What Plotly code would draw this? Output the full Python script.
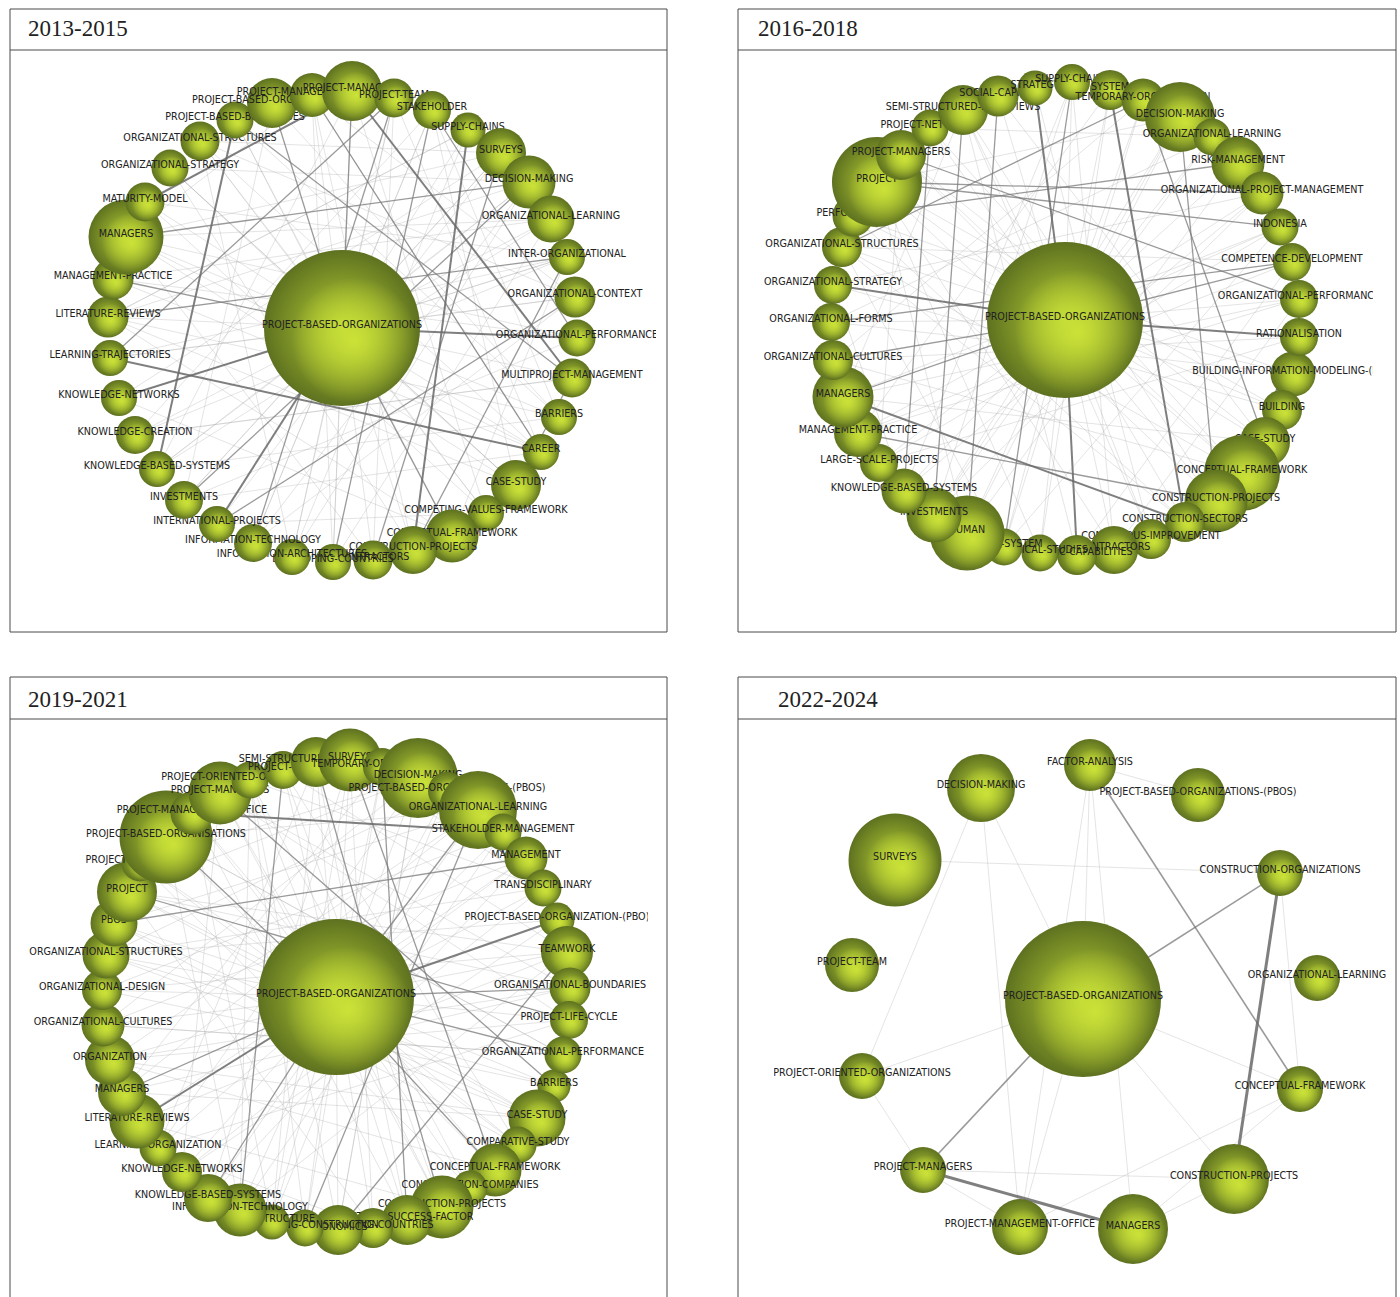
import plotly.graph_objects as go

W, H = 1400, 1297

# ---------------- Panel 1 : 2013-2015 ----------------
p1_labels = ["PROJECT-BASED-ORGANIZATIONS", "BARRIERS", "CAREER", "CASE-STUDY", "COMPETING-VALUES-FRAMEWORK",
             "CONCEPTUAL-FRAMEWORK", "CONSTRUCTION-PROJECTS", "CONTRACTORS", "DEVELOPING-COUNTRIES",
             "INFORMATION-ARCHITECTURES", "INFORMATION-TECHNOLOGY", "INTERNATIONAL-PROJECTS", "INVESTMENTS",
             "KNOWLEDGE-BASED-SYSTEMS", "KNOWLEDGE-CREATION", "KNOWLEDGE-NETWORKS", "LEARNING-TRAJECTORIES",
             "LITERATURE-REVIEWS", "MANAGEMENT-PRACTICE", "MANAGERS", "MATURITY-MODEL", "ORGANIZATIONAL-STRATEGY",
             "ORGANIZATIONAL-STRUCTURES", "PROJECT-BASED-BUSINESSES", "PROJECT-BASED-ORGANISATIONS",
             "PROJECT-MANAGEMENT-OFFICE", "PROJECT-MANAGERS", "PROJECT-TEAM", "STAKEHOLDER", "SUPPLY-CHAINS",
             "SURVEYS", "DECISION-MAKING", "ORGANIZATIONAL-LEARNING", "INTER-ORGANIZATIONAL",
             "ORGANIZATIONAL-CONTEXT", "ORGANIZATIONAL-PERFORMANCE", "MULTIPROJECT-MANAGEMENT"]
p1_x = [342, 559, 541, 516, 486, 452, 413, 373, 333, 292, 253, 217, 184, 157, 135, 119, 110, 108, 113, 126, 145,
        170, 200, 235, 272, 312, 352, 394, 432, 468, 501, 529, 551, 567, 575, 577, 572]
p1_y = [328, 417, 452, 485, 513, 536, 550, 560, 562, 557, 543, 524, 500, 469, 435, 398, 358, 317, 279, 237, 202,
        168, 141, 120, 103, 95, 91, 98, 110, 130, 153, 182, 219, 257, 297, 338, 378]
p1_size = [156, 36, 36, 50, 36, 53, 48, 39, 36, 36, 38, 36, 38, 36, 38, 36, 36, 41, 41, 75, 39,
           37, 39, 37, 50, 44, 60, 39, 38, 35, 50, 53, 47, 36, 41, 37, 39]
p1_strong = [(20, 26), (23, 13), (26, 36), (16, 2), (15, 0), (11, 0), (0, 35), (29, 6)]
p1_mid = [(16, 27), (18, 0), (23, 36), (27, 10), (28, 35), (3, 36), (11, 34), (7, 30), (6, 33), (25, 2),
          (24, 0), (19, 31), (26, 0), (0, 5), (17, 33), (31, 12), (28, 8)]
p1_weak = [(0, 1), (0, 2), (0, 3), (0, 4), (0, 6), (0, 7), (0, 8), (0, 9), (0, 10), (0, 12), (0, 13), (0, 14),
           (0, 16), (0, 17), (0, 19), (0, 20), (0, 21), (0, 22), (0, 23), (0, 25), (0, 27), (0, 28), (0, 29),
           (0, 30), (0, 31), (0, 32), (0, 33), (0, 34), (0, 36),
           (19, 30), (19, 32), (19, 3), (19, 35), (19, 7), (18, 32), (18, 2), (17, 29), (17, 5), (21, 31),
           (21, 3), (22, 30), (22, 34), (22, 9), (24, 1), (24, 12), (25, 34), (25, 8), (26, 13), (26, 4),
           (27, 2), (28, 14), (28, 1), (29, 17), (30, 11), (30, 15), (31, 9), (32, 13), (33, 16), (34, 10),
           (35, 12), (36, 14), (3, 17), (5, 15), (4, 20), (6, 21), (8, 26), (9, 27), (10, 28), (12, 30),
           (13, 31), (14, 33), (2, 25), (1, 23), (3, 28), (5, 33), (20, 33), (22, 2), (19, 25), (18, 35),
           (17, 31), (16, 34), (15, 33), (14, 36), (13, 1), (12, 2), (11, 4), (10, 31), (9, 29), (8, 32),
           (7, 27), (6, 25), (5, 23), (4, 22), (3, 21), (2, 19), (1, 17)]

# ---------------- Panel 2 : 2016-2018 ----------------
p2_labels = ["PROJECT-BASED-ORGANIZATIONS", "BUILDING-INFORMATION-MODELING-(BIM)", "BUILDING", "CASE-STUDY",
             "CONCEPTUAL-FRAMEWORK", "CONSTRUCTION-PROJECTS", "CONSTRUCTION-SECTORS", "CONTINUOUS-IMPROVEMENT",
             "CONTRACTORS", "DYNAMIC-CAPABILITIES", "EMPIRICAL-STUDIES", "EXPERT-SYSTEM", "HUMAN", "INVESTMENTS",
             "KNOWLEDGE-BASED-SYSTEMS", "LARGE-SCALE-PROJECTS", "MANAGEMENT-PRACTICE", "MANAGERS",
             "ORGANIZATIONAL-CULTURES", "ORGANIZATIONAL-FORMS", "ORGANIZATIONAL-STRATEGY",
             "ORGANIZATIONAL-STRUCTURES", "PERFORMANCE", "PROJECT", "PROJECT-MANAGERS", "PROJECT-NETWORKS",
             "SEMI-STRUCTURED-INTERVIEWS", "SOCIAL-CAPITAL", "STRATEGY", "SUPPLY-CHAINS", "SYSTEM",
             "TEMPORARY-ORGANIZATION", "DECISION-MAKING", "ORGANIZATIONAL-LEARNING", "RISK-MANAGEMENT",
             "ORGANIZATIONAL-PROJECT-MANAGEMENT", "INDONESIA", "COMPETENCE-DEVELOPMENT",
             "ORGANIZATIONAL-PERFORMANCE", "RATIONALISATION"]
p2_x = [1065, 1293, 1282, 1265, 1242, 1216, 1185, 1151, 1114, 1077, 1040, 1004, 967, 934, 904, 879, 858, 843,
        833, 831, 833, 842, 853, 877, 901, 930, 963, 998, 1035, 1072, 1110, 1143, 1180, 1212, 1238, 1262, 1280,
        1292, 1299, 1299]
p2_y = [320, 374, 410, 442, 473, 501, 522, 539, 550, 555, 553, 547, 533, 515, 491, 463, 433, 397, 360, 322,
        285, 247, 216, 182, 155, 128, 110, 96, 88, 82, 90, 100, 117, 137, 163, 193, 227, 262, 299, 337]
p2_size = [156, 45, 40, 50, 76, 63, 40, 40, 48, 40, 37, 37, 75, 55, 45, 38, 48, 61, 40, 38, 38, 40, 41, 90,
           50, 37, 50, 41, 35, 36, 40, 43, 70, 37, 53, 43, 37, 38, 38, 38]
p2_strong = [(20, 0), (0, 39), (28, 0), (30, 6), (0, 9), (17, 6), (39, 4)]
p2_mid = [(18, 0), (0, 37), (23, 35), (21, 31), (31, 3), (32, 5), (26, 13), (23, 36), (24, 38), (17, 0),
          (19, 37), (25, 14), (29, 11), (22, 34), (16, 5), (27, 12)]
p2_weak = [(0, 1), (0, 2), (0, 3), (0, 4), (0, 5), (0, 6), (0, 7), (0, 8), (0, 10), (0, 11), (0, 12), (0, 13),
           (0, 14), (0, 15), (0, 16), (0, 19), (0, 21), (0, 22), (0, 23), (0, 24), (0, 25), (0, 26), (0, 27),
           (0, 29), (0, 30), (0, 31), (0, 32), (0, 33), (0, 34), (0, 35), (0, 36), (0, 38),
           (23, 32), (23, 5), (23, 12), (23, 8), (24, 4), (24, 15), (25, 33), (26, 7), (26, 17), (27, 3),
           (29, 14), (30, 16), (31, 18), (32, 13), (33, 19), (34, 12), (35, 20), (36, 17), (37, 21), (38, 16),
           (39, 15), (1, 22), (2, 23), (3, 24), (4, 25), (5, 26), (7, 28), (8, 29), (10, 30), (11, 31),
           (12, 32), (13, 33), (14, 35), (15, 36), (16, 37), (17, 38), (18, 39), (19, 1), (20, 2), (21, 4),
           (22, 6), (9, 26), (10, 23), (11, 21), (13, 29), (14, 20), (3, 17), (4, 18), (6, 21), (35, 13),
           (36, 11), (37, 9), (38, 8)]

# ---------------- Panel 3 : 2019-2021 ----------------
p3_labels = ["PROJECT-BASED-ORGANIZATIONS", "BARRIERS", "CASE-STUDY", "COMPARATIVE-STUDY", "CONCEPTUAL-FRAMEWORK",
             "CONSTRUCTION-COMPANIES", "CONSTRUCTION-PROJECTS", "CRITICAL-SUCCESS-FACTOR", "DEVELOPING-COUNTRIES",
             "ECONOMICS", "ENGINEERING-CONSTRUCTION", "INFRASTRUCTURE", "INFORMATION-TECHNOLOGY",
             "KNOWLEDGE-BASED-SYSTEMS", "KNOWLEDGE-NETWORKS", "LEARNING-ORGANIZATION", "LITERATURE-REVIEWS",
             "MANAGERS", "ORGANIZATION", "ORGANIZATIONAL-CULTURES", "ORGANIZATIONAL-DESIGN",
             "ORGANIZATIONAL-STRUCTURES", "PBOS", "PROJECT", "PROJECT-BASED-FIRMS", "PROJECT-BASED-ORGANISATIONS",
             "PROJECT-MANAGEMENT-OFFICE", "PROJECT-MANAGERS", "PROJECT-ORIENTED-ORGANIZATIONS", "PROJECT-TEAM",
             "SEMI-STRUCTURED-INTERVIEWS", "SURVEYS", "TEMPORARY-ORGANIZATIONS", "DECISION-MAKING",
             "PROJECT-BASED-ORGANIZATIONS-(PBOS)", "ORGANIZATIONAL-LEARNING", "STAKEHOLDER-MANAGEMENT",
             "MANAGEMENT", "TRANSDISCIPLINARY", "PROJECT-BASED-ORGANIZATION-(PBO)", "TEAMWORK",
             "ORGANISATIONAL-BOUNDARIES", "PROJECT-LIFE-CYCLE", "ORGANIZATIONAL-PERFORMANCE"]
p3_x = [336, 554, 537, 518, 495, 470, 442, 407, 373, 338, 305, 272, 240, 208, 182, 158, 137, 122, 110, 103, 102,
        106, 114, 127, 140, 166, 192, 220, 250, 283, 316, 350, 382, 418, 447, 478, 503, 526, 543, 557, 567, 570,
        569, 563]
p3_y = [997, 1086, 1118, 1145, 1170, 1188, 1207, 1220, 1228, 1230, 1228, 1222, 1210, 1198, 1172, 1148, 1121,
        1092, 1060, 1025, 990, 955, 923, 892, 863, 837, 813, 793, 780, 770, 762, 760, 767, 778, 791, 810, 832,
        858, 888, 920, 952, 988, 1020, 1055]
p3_size = [156, 33, 57, 37, 53, 35, 63, 50, 40, 50, 37, 35, 53, 48, 40, 37, 55, 48, 50, 43, 40, 47, 47, 60,
           37, 93, 43, 63, 37, 38, 50, 63, 38, 80, 38, 78, 37, 43, 37, 35, 52, 41, 38, 37]
p3_strong = [(0, 39), (0, 16), (33, 38), (26, 36)]
p3_mid = [(0, 17), (0, 41), (0, 43), (31, 4), (9, 40), (10, 35), (13, 0), (30, 6), (22, 37), (29, 12),
          (27, 1), (23, 42), (32, 7), (25, 0), (35, 0), (0, 4)]
p3_weak = [(0, 1), (0, 2), (0, 3), (0, 5), (0, 6), (0, 7), (0, 8), (0, 9), (0, 10), (0, 11), (0, 12), (0, 14),
           (0, 15), (0, 18), (0, 19), (0, 20), (0, 21), (0, 22), (0, 23), (0, 24), (0, 26), (0, 27), (0, 28),
           (0, 29), (0, 30), (0, 31), (0, 32), (0, 33), (0, 34), (0, 36), (0, 37), (0, 38), (0, 40), (0, 42),
           (23, 33), (23, 2), (23, 40), (23, 8), (25, 35), (25, 4), (25, 12), (25, 43), (27, 41), (27, 6),
           (27, 14), (28, 38), (28, 10), (29, 3), (30, 15), (31, 11), (32, 17), (33, 19), (33, 9), (34, 21),
           (35, 13), (35, 18), (36, 20), (37, 16), (38, 14), (40, 12), (41, 18), (42, 15), (43, 19), (1, 21),
           (2, 22), (2, 17), (3, 24), (4, 26), (4, 18), (5, 28), (6, 29), (7, 30), (8, 31), (9, 33), (10, 32),
           (11, 34), (12, 36), (13, 37), (14, 39), (16, 40), (17, 41), (18, 42), (19, 43), (20, 1), (21, 2),
           (22, 3), (24, 5), (26, 7), (28, 9), (30, 11), (31, 13), (33, 15), (35, 17), (37, 19), (39, 21),
           (41, 23), (43, 25), (42, 27), (40, 29), (38, 31), (36, 33), (20, 40), (21, 38), (22, 35), (24, 33),
           (18, 2), (16, 6), (15, 8), (12, 28), (11, 26)]

# ---------------- Panel 4 : 2022-2024 ----------------
p4_labels = ["PROJECT-BASED-ORGANIZATIONS", "FACTOR-ANALYSIS", "PROJECT-BASED-ORGANIZATIONS-(PBOS)",
             "CONSTRUCTION-ORGANIZATIONS", "ORGANIZATIONAL-LEARNING", "CONCEPTUAL-FRAMEWORK",
             "CONSTRUCTION-PROJECTS", "MANAGERS", "PROJECT-MANAGEMENT-OFFICE", "PROJECT-MANAGERS",
             "PROJECT-ORIENTED-ORGANIZATIONS", "PROJECT-TEAM", "SURVEYS", "DECISION-MAKING"]
p4_x = [1083, 1090, 1198, 1280, 1317, 1300, 1234, 1133, 1020, 923, 862, 852, 895, 981]
p4_y = [999, 765, 795, 873, 978, 1089, 1179, 1229, 1227, 1170, 1076, 965, 860, 788]
p4_size = [156, 52, 54, 46, 46, 46, 70, 70, 56, 46, 46, 54, 93, 68]
p4_strong = [(9, 7), (3, 6)]
p4_mid = [(9, 0), (3, 0), (1, 5)]
p4_weak = [(1, 2), (1, 0), (1, 7), (1, 8), (13, 10), (13, 0), (12, 3), (10, 0), (10, 9), (9, 6), (8, 0),
           (8, 5), (7, 5), (6, 0), (5, 3), (5, 0), (9, 8), (6, 7), (13, 8)]

titles = ["2013-2015", "2016-2018", "2019-2021", "2022-2024"]

# panel frames in page pixels: box (x0, y0, x1, y1), header line y, clip area (x0, x1, y0, y1), title position
panels = [
    dict(box=(10, 9, 667, 632), head=50, clip=(10, 656, 51, 632), tx=26, ty=29),
    dict(box=(738, 9, 1396, 632), head=50, clip=(738, 1373, 51, 632), tx=756, ty=29),
    dict(box=(10, 677, 667, 1300), head=719, clip=(10, 648, 720, 1297), tx=26, ty=699),
    dict(box=(738, 677, 1396, 1300), head=719, clip=(774, 1396, 720, 1297), tx=776, ty=699),
]
data = [
    (p1_labels, p1_x, p1_y, p1_size, p1_strong, p1_mid, p1_weak),
    (p2_labels, p2_x, p2_y, p2_size, p2_strong, p2_mid, p2_weak),
    (p3_labels, p3_x, p3_y, p3_size, p3_strong, p3_mid, p3_weak),
    (p4_labels, p4_x, p4_y, p4_size, p4_strong, p4_mid, p4_weak),
]

RIM = "#5e7120"
CORE = "#b9d334"
HL = "203,226,56"
LABEL_FONT = dict(family="DejaVu Sans, Verdana, sans-serif", size=9.6, color="#222222")

def px(x):
    return x / W

def py(y):
    return 1 - y / H

fig = go.Figure()
layout_axes = {}
shapes = []
annotations = []

for k, (pan, (labs, xs, ys, ds, strong, mid, weak)) in enumerate(zip(panels, data)):
    n = "" if k == 0 else str(k + 1)
    xa, ya = "x" + n, "y" + n
    cx0, cx1, cy0, cy1 = pan["clip"]
    layout_axes["xaxis" + n] = dict(domain=[px(cx0), px(cx1)], range=[cx0, cx1], visible=False,
                                    fixedrange=True, anchor=ya)
    layout_axes["yaxis" + n] = dict(domain=[py(cy1), py(cy0)], range=[cy1, cy0], visible=False,
                                    fixedrange=True, anchor=xa)

    heavy = k == 3
    for pairs, col, wd in [(weak, "rgba(165,165,165,0.38)", 0.8),
                           (mid, "rgba(120,120,120,0.75)", 1.3 if not heavy else 1.6),
                           (strong, "rgba(105,105,105,0.85)", 2.0 if not heavy else 3.0)]:
        ex, ey = [], []
        for a, b in pairs:
            ex += [xs[a], xs[b], None]
            ey += [ys[a], ys[b], None]
        fig.add_trace(go.Scatter(x=ex, y=ey, mode="lines", line=dict(color=col, width=wd),
                                 xaxis=xa, yaxis=ya, hoverinfo="skip", showlegend=False))

    for lab, x, y, d in zip(labs, xs, ys, ds):
        fig.add_trace(go.Scatter(x=[x], y=[y], mode="markers", xaxis=xa, yaxis=ya, hoverinfo="skip",
                                 showlegend=False,
                                 marker=dict(size=d, color=RIM, line=dict(width=0),
                                             gradient=dict(type="radial", color=CORE))))
        fig.add_trace(go.Scatter(x=[x + 0.08 * d], y=[y + 0.08 * d], mode="markers", xaxis=xa, yaxis=ya,
                                 hoverinfo="skip", showlegend=False,
                                 marker=dict(size=0.8 * d, color="rgba(%s,0.01)" % HL, line=dict(width=0),
                                             gradient=dict(type="radial", color="rgba(%s,1)" % HL))))
        fig.add_trace(go.Scatter(x=[x], y=[y - 2], mode="text", text=[lab], textposition="middle center",
                                 textfont=LABEL_FONT, xaxis=xa, yaxis=ya, hoverinfo="skip", showlegend=False))

    bx0, by0, bx1, by1 = pan["box"]
    shapes.append(dict(type="rect", xref="paper", yref="paper", x0=px(bx0), x1=px(bx1), y0=py(by1), y1=py(by0),
                       line=dict(color="#4a4a4a", width=1), fillcolor="rgba(0,0,0,0)", layer="above"))
    shapes.append(dict(type="line", xref="paper", yref="paper", x0=px(bx0), x1=px(bx1), y0=py(pan["head"]),
                       y1=py(pan["head"]), line=dict(color="#4a4a4a", width=1), layer="above"))
    annotations.append(dict(text=titles[k], xref="paper", yref="paper", x=px(pan["tx"]), y=py(pan["ty"]),
                            xanchor="left", yanchor="middle", showarrow=False,
                            font=dict(family="Liberation Serif, Times New Roman, serif", size=23, color="#222")))

fig.update_layout(width=W, height=H, margin=dict(l=0, r=0, t=0, b=0), paper_bgcolor="white",
                  plot_bgcolor="rgba(0,0,0,0)", showlegend=False, shapes=shapes, annotations=annotations,
                  **layout_axes)

fig.write_html("out.html")
